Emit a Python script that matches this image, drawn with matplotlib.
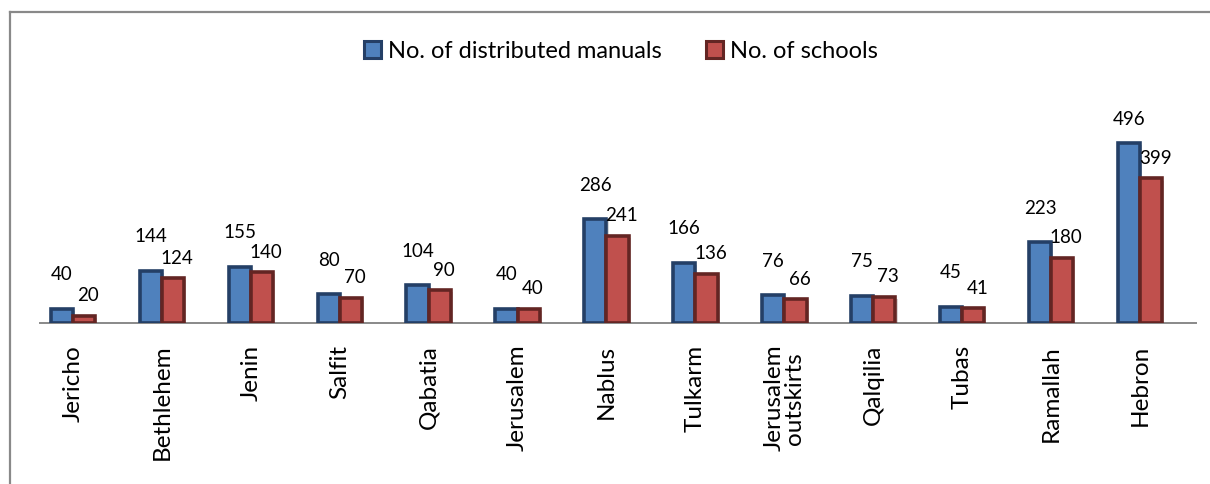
import matplotlib.pyplot as plt
import matplotlib.patheffects as pe
from matplotlib.patches import Patch
from matplotlib.lines import Line2D
import numpy as np

districts = ["Jericho", "Bethlehem", "Jenin", "Salfit", "Qabatia", "Jerusalem",
             "Nablus", "Tulkarm", "Jerusalem\noutskirts", "Qalqilia", "Tubas",
             "Ramallah", "Hebron"]
manuals = [40, 144, 155, 80, 104, 40, 286, 166, 76, 75, 45, 223, 496]
schools = [20, 124, 140, 70, 90, 40, 241, 136, 66, 73, 41, 180, 399]

blue_face, blue_edge = "#4F81BD", "#243F66"
red_face, red_edge = "#C0504D", "#632523"
grey = "#898989"
label_font = "Lato"

W, H = 1210, 485
fig = plt.figure(figsize=(W / 100, H / 100), dpi=100)
# plot area in pixels: left 40, right 1196, baseline at 324, top at 111
ax = fig.add_axes([40 / W, (H - 324) / H, 1156 / W, 213 / H])

ymax = 588
px = 213 / ymax          # pixels per unit

x = np.arange(len(districts))
w = 0.25
shadow = [pe.SimplePatchShadow(offset=(1.5, -1.5), alpha=0.18), pe.Normal()]

b1 = ax.bar(x - w / 2, manuals, w, color=blue_face, edgecolor=blue_edge,
            linewidth=2.6, path_effects=shadow, zorder=3)
b2 = ax.bar(x + w / 2, schools, w, color=red_face, edgecolor=red_edge,
            linewidth=2.6, path_effects=shadow, zorder=3)

# value labels above the bars, kept inside the plot area
for rect, v in zip(b1, manuals):
    y = min(v + 35 / px, ymax - 9 / px)
    ax.text(rect.get_x() + rect.get_width() / 2, y, str(v),
            ha="center", va="center", fontsize=13.5, family=label_font)
for rect, v in zip(b2, schools):
    y = min(v + 21 / px, ymax - 9 / px)
    ax.text(rect.get_x() + rect.get_width() / 2 + 4 / 88.9, y, str(v),
            ha="center", va="center", fontsize=13.5, family=label_font)

ax.set_xlim(-0.371, 12.63)
ax.set_ylim(0, ymax)
ax.set_yticks([])
ax.set_xticks(x)
ax.set_xticklabels(districts, rotation=90, va="top", ha="center",
                   fontsize=17.5, family=label_font, linespacing=1.0)
ax.tick_params(axis="x", length=0, pad=15)
for s in ["top", "right", "left"]:
    ax.spines[s].set_visible(False)
ax.spines["bottom"].set_color(grey)
ax.spines["bottom"].set_linewidth(1.4)

handles = [Patch(facecolor=blue_face, edgecolor=blue_edge, linewidth=2.2),
           Patch(facecolor=red_face, edgecolor=red_edge, linewidth=2.2)]
fig.legend(handles, ["No. of distributed manuals", "No. of schools"],
           loc="center", bbox_to_anchor=(621 / W, 1 - 52 / H), ncol=2,
           frameon=False, prop={"family": label_font, "size": 17},
           handlelength=0.7, handleheight=0.7, handletextpad=0.3,
           columnspacing=1.9)

# outer frame: left and top edges only
fig.add_artist(Line2D([10 / W, 10 / W], [0, 1 - 13 / H],
                      color=grey, linewidth=1.6, transform=fig.transFigure))
fig.add_artist(Line2D([10 / W, 1], [1 - 13 / H, 1 - 13 / H],
                      color=grey, linewidth=1.6, transform=fig.transFigure))

fig.savefig("out.png", dpi=100)
